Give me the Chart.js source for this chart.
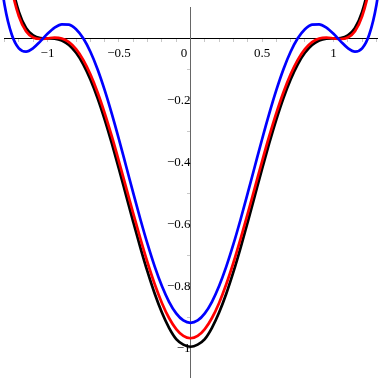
<!DOCTYPE html>
<html>
<head>
<meta charset="utf-8">
<script src="https://cdn.jsdelivr.net/npm/chart.js@4"></script>
<style>
  html, body { margin: 0; padding: 0; background: #fff; }
  #wrap { width: 382px; height: 382px; }
</style>
</head>
<body>
<div id="wrap"><canvas id="plot" width="382" height="382"></canvas></div>
<script>
const xs = [-1.35, -1.3, -1.25, -1.2, -1.15, -1.1, -1.05, -1, -0.95, -0.9, -0.85, -0.8, -0.75, -0.7,
  -0.65, -0.6, -0.55, -0.5, -0.45, -0.4, -0.35, -0.3, -0.25, -0.2, -0.15, -0.1, -0.05, 0,
  0.05, 0.1, 0.15, 0.2, 0.25, 0.3, 0.35, 0.4, 0.45, 0.5, 0.55, 0.6, 0.65, 0.7, 0.75, 0.8,
  0.85, 0.9, 0.95, 1, 1.05, 1.1, 1.15, 1.2, 1.25, 1.3, 1.35];

const blackY = [0.5564, 0.3285, 0.1780, 0.0852, 0.0335, 0.0093, 0.0011, 0, -0.0009, -0.0069,
  -0.0214, -0.0467, -0.0837, -0.1327, -0.1926, -0.2621, -0.3393, -0.4219, -0.5072, -0.5927,
  -0.6757, -0.7536, -0.8240, -0.8847, -0.9340, -0.9703, -0.9880, -0.9950, -0.9880, -0.9703,
  -0.9340, -0.8847, -0.8240, -0.7536, -0.6757, -0.5927, -0.5072, -0.4219, -0.3393, -0.2621,
  -0.1926, -0.1327, -0.0837, -0.0467, -0.0214, -0.0069, -0.0009, 0, 0.0011, 0.0093, 0.0335,
  0.0852, 0.1780, 0.3285, 0.5564];

const redY = [0.5298, 0.3062, 0.1598, 0.0709, 0.0231, 0.0025, -0.0022, 0, 0.0022, -0.0007,
  -0.0124, -0.0350, -0.0696, -0.1161, -0.1739, -0.2414, -0.3167, -0.3976, -0.4814, -0.5655,
  -0.6473, -0.7241, -0.7936, -0.8536, -0.9023, -0.9382, -0.9602, -0.9676, -0.9602, -0.9382,
  -0.9023, -0.8536, -0.7936, -0.7241, -0.6473, -0.5655, -0.4814, -0.3976, -0.3167, -0.2414,
  -0.1739, -0.1161, -0.0696, -0.0350, -0.0124, -0.0007, 0.0022, 0, -0.0022, 0.0025, 0.0231,
  0.0709, 0.1598, 0.3062, 0.5298];

const blueY = [0.2730, 0.1078, 0.0123, -0.0326, -0.0428, -0.0316, -0.0098, 0.0144, 0.0342, 0.0452,
  0.0442, 0.0293, 0, -0.0434, -0.0997, -0.1672, -0.2437, -0.3264, -0.4128, -0.4997,
  -0.5845, -0.6643, -0.7366, -0.7991, -0.8499, -0.8873, -0.9102, -0.9179, -0.9102, -0.8873,
  -0.8499, -0.7991, -0.7366, -0.6643, -0.5845, -0.4997, -0.4128, -0.3264, -0.2437, -0.1672,
  -0.0997, -0.0434, 0, 0.0293, 0.0442, 0.0452, 0.0342, 0.0144, -0.0098, -0.0316, -0.0428,
  -0.0326, 0.0123, 0.1078, 0.2730];

// tick marks (every 0.1) and the ones that carry a label
const xTickMarks = [-1.3, -1.2, -1.1, -1, -0.9, -0.8, -0.7, -0.6, -0.5, -0.4, -0.3, -0.2, -0.1, 0,
  0.1, 0.2, 0.3, 0.4, 0.5, 0.6, 0.7, 0.8, 0.9, 1, 1.1, 1.2, 1.3];
const xTickLabels = [-1, -0.5, 0, 0.5, 1];
const yTickMarks = [-1.0, -0.9, -0.8, -0.7, -0.6, -0.5, -0.4, -0.3, -0.2, -0.1];
const yTickLabels = [-1, -0.8, -0.6, -0.4, -0.2];

function pts(arr) {
  return xs.map((x, i) => ({ x: x, y: arr[i] }));
}

function fmtWith(labels) {
  return (v) => {
    if (!labels.includes(v)) return "";
    if (v === 0) return "0\u2003";
    return String(v).replace("-", "\u2212");
  };
}

// centre axes should not push the plot area in
function noPad(s) {
  s.paddingTop = 0;
  s.paddingBottom = 0;
  s.paddingLeft = 0;
  s.paddingRight = 0;
}

const clipBox = { left: 4, top: 7, right: 5, bottom: 5 };
const tickFont = { family: "'Liberation Serif', 'DejaVu Serif', serif", size: 13 };

new Chart(document.getElementById("plot"), {
  type: "line",
  data: {
    datasets: [
      { data: pts(blueY), borderColor: "#0000ff", clip: clipBox },
      { data: pts(redY), borderColor: "#ff0000", clip: clipBox },
      { data: pts(blackY), borderColor: "#000000", clip: clipBox },
    ],
  },
  options: {
    responsive: false,
    animation: false,
    layout: { padding: { left: 4, right: 5, top: 7, bottom: 5 } },
    plugins: { legend: { display: false }, tooltip: { enabled: false } },
    elements: {
      point: { radius: 0 },
      line: { borderWidth: 2.7, cubicInterpolationMode: "monotone", fill: false },
    },
    scales: {
      x: {
        type: "linear",
        position: { y: 0 },
        min: -1.304,
        max: 1.304,
        grid: { display: true, drawOnChartArea: false, drawTicks: true, tickLength: 3, color: "#c8c8c8" },
        border: { display: true, color: "#000", width: 1 },
        afterBuildTicks: (s) => { s.ticks = xTickMarks.map((v) => ({ value: v })); },
        afterFit: noPad,
        ticks: { font: tickFont, color: "#000", padding: 4, maxRotation: 0, autoSkip: false, callback: fmtWith(xTickLabels) },
      },
      y: {
        type: "linear",
        position: { x: 0 },
        min: -1.0926,
        max: 0.101,
        grid: { display: true, drawOnChartArea: false, drawTicks: true, tickLength: 3, color: "#c8c8c8" },
        border: { display: true, color: "#666", width: 1 },
        afterBuildTicks: (s) => { s.ticks = yTickMarks.map((v) => ({ value: v })); },
        afterFit: noPad,
        ticks: { font: tickFont, color: "#000", padding: 4, autoSkip: false, callback: fmtWith(yTickLabels) },
      },
    },
  },
});
</script>
</body>
</html>
